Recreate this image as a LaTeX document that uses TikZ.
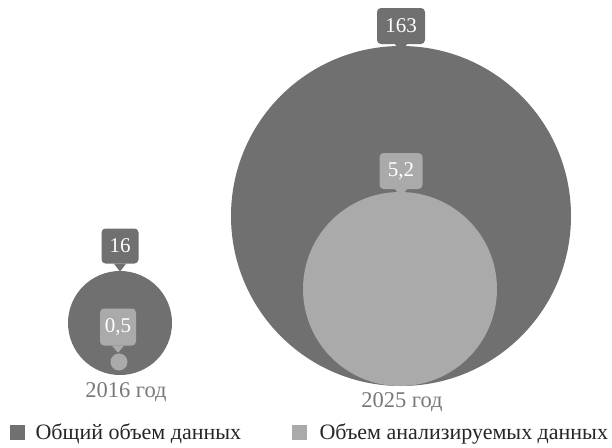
\documentclass[tikz,border=0pt]{standalone}
\usepackage{fontspec}
\setmainfont{Liberation Serif}
\definecolor{totalgray}{RGB}{112,112,112}
\definecolor{usedgray}{RGB}{170,170,170}
\definecolor{yeargray}{RGB}{120,120,120}
\tikzset{
  blob/.style={circle,inner sep=0pt},
  valbox/.style={rounded corners=4pt,text=white,inner sep=0pt,font=\fontsize{21}{21}\selectfont},
  yearlabel/.style={text=yeargray,font=\fontsize{22.5}{22.5}\selectfont},
  legtext/.style={anchor=west,text=black!85,font=\fontsize{22}{22}\selectfont}
}
\begin{document}
\begin{tikzpicture}[x=1pt,y=-1pt]
		\useasboundingbox (0,0) rectangle (612,447);
		% 2016
		\node[blob,fill=totalgray,minimum size=104pt] (c16) at (120,323) {};
		\node[blob,fill=usedgray,minimum size=17pt] (u16) at (119,362) {};
		\node[valbox,fill=totalgray,minimum width=37pt,minimum height=35pt] (v16) at (120,246) {16};
		\fill[totalgray] (v16.south) ++(-6pt,0) -- ++(6pt,-8pt) -- ++(6pt,8pt) -- cycle;
		\node[valbox,fill=usedgray,minimum width=36pt,minimum height=37pt] (v05) at (118,327) {0,5};
		\fill[usedgray] (v05.south) ++(-6pt,0) -- ++(6pt,-7pt) -- ++(6pt,7pt) -- cycle;
		\node[yearlabel] (y16) at (126,392) {2016 год};
		% 2025
		\node[blob,fill=totalgray,minimum size=340pt] (c25) at (401,216) {};
		\node[blob,fill=usedgray,minimum size=194pt] (u25) at (400,289) {};
		\node[valbox,fill=totalgray,minimum width=48pt,minimum height=36pt] (v163) at (401,26) {163};
		\fill[totalgray] (v163.south) ++(-6pt,0) -- ++(6pt,-8pt) -- ++(6pt,8pt) -- cycle;
		\node[valbox,fill=usedgray,minimum width=43pt,minimum height=36pt] (v52) at (401,171) {5,2};
		\fill[usedgray] (v52.south) ++(-6pt,0) -- ++(6pt,-7pt) -- ++(6pt,7pt) -- cycle;
		\node[yearlabel] (y25) at (402,402) {2025 год};
		% legend
		\fill[totalgray] (10,425) rectangle (25,440);
		\node[legtext] (l1) at (32,434) {Общий объем данных};
		\fill[usedgray] (292,425) rectangle (307,440);
		\node[legtext] (l2) at (316,434) {Объем анализируемых данных};
\end{tikzpicture}
\end{document}
